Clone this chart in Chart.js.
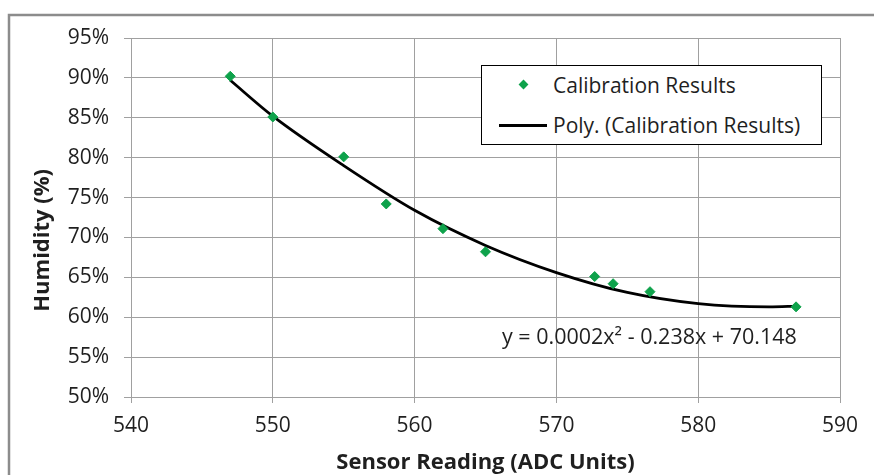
<!DOCTYPE html>
<html>
<head>
<meta charset="utf-8">
<script src="https://cdn.jsdelivr.net/npm/chart.js@4/dist/chart.umd.min.js"></script>
<style>
  body { margin: 0; background: #fff; }
  #wrap { position: relative; width: 874px; height: 475px; font-family: "Open Sans", sans-serif; color: #1f1f1f; }
  #legend {
    position: absolute; left: 481px; top: 65px; width: 341px; height: 80px;
    box-sizing: border-box; border: 1.5px solid #000; background: #fff;
  }
  .item { position: absolute; left: 0; height: 26px; line-height: 26px; font-size: 21px; white-space: nowrap; }
  .item .label { position: absolute; left: 71px; }
  .swatch { position: absolute; }
  #equation { position: absolute; left: 502px; top: 322px; font-size: 21.5px; line-height: 28px; white-space: nowrap; }
</style>
</head>
<body>
<div id="wrap">
  <canvas id="chart" width="874" height="475"></canvas>
  <div id="legend"></div>
  <div id="equation">y = 0.0002x² - 0.238x + 70.148</div>
</div>
<script>
// calibration points
const sensorReadings = [547, 550, 555, 558, 562, 565, 572.7, 574, 576.6, 586.9];
const humidity = [90.2, 85.1, 80.1, 74.2, 71.1, 68.2, 65.1, 64.2, 63.2, 61.3];

// polynomial trendline
const trendX = [547, 550, 555, 560, 565, 570, 575, 580, 585, 587];
const trendY = [89.7, 85.2, 79.0, 73.4, 69.0, 65.6, 63.1, 61.7, 61.3, 61.4];

const xTicks = [540, 550, 560, 570, 580, 590];
const yTicks = [50, 55, 60, 65, 70, 75, 80, 85, 90, 95];

const pointColor = '#0ea24b';
const gridColor = '#a0a0a0';
const textColor = '#1f1f1f';

const frame = {
  id: 'frame',
  beforeDraw(chart) {
    const ctx = chart.ctx;
    ctx.save();
    ctx.fillStyle = '#fff';
    ctx.fillRect(0, 0, chart.width, chart.height);
    ctx.strokeStyle = '#8c8c8c';
    ctx.lineWidth = 2.5;
    ctx.strokeRect(9, 15, chart.width + 20, chart.height + 20);
    ctx.restore();
  }
};

const chart = new Chart(document.getElementById('chart'), {
  type: 'scatter',
  data: {
    datasets: [
      {
        label: 'Calibration Results',
        data: sensorReadings.map((x, i) => ({ x: x, y: humidity[i] })),
        pointStyle: 'rectRot',
        pointRadius: 5,
        backgroundColor: pointColor,
        borderColor: pointColor,
        borderWidth: 1,
        order: 0
      },
      {
        label: 'Poly. (Calibration Results)',
        type: 'line',
        data: trendX.map((x, i) => ({ x: x, y: trendY[i] })),
        borderColor: '#000',
        borderWidth: 2.8,
        pointRadius: 0,
        cubicInterpolationMode: 'monotone',
        fill: false,
        order: 1
      }
    ]
  },
  options: {
    responsive: false,
    animation: false,
    layout: { padding: { top: 38, right: 34, left: 0, bottom: 0 } },
    plugins: {
      legend: { display: false },
      tooltip: { enabled: false }
    },
    scales: {
      x: {
        type: 'linear',
        min: 540,
        max: 590,
        afterBuildTicks: (axis) => { axis.ticks = xTicks.map(v => ({ value: v })); },
        afterFit: (axis) => { axis.height = 78; },
        ticks: { color: textColor, padding: 10, font: { family: 'Open Sans', size: 21 } },
        grid: { color: gridColor, lineWidth: 1, tickLength: 6 },
        border: { color: gridColor },
        title: {
          display: true,
          text: 'Sensor Reading (ADC Units)',
          color: textColor,
          padding: { top: 0, bottom: 0 },
          font: { family: 'Open Sans', size: 22, weight: 'bold', lineHeight: 1.1 }
        }
      },
      y: {
        min: 50,
        max: 95,
        afterBuildTicks: (axis) => { axis.ticks = yTicks.map(v => ({ value: v })); },
        afterFit: (axis) => { axis.width = 131; },
        ticks: {
          color: textColor,
          padding: 15,
          font: { family: 'Open Sans', size: 21 },
          callback: (v) => v + '%'
        },
        grid: { color: gridColor, lineWidth: 1, tickLength: 7 },
        border: { color: gridColor },
        title: {
          display: true,
          text: 'Humidity (%)\u00a0\u00a0\u00a0\u00a0\u00a0\u00a0\u00a0\u00a0',
          color: textColor,
          padding: { top: 30, bottom: 0 },
          font: { family: 'Open Sans', size: 22, weight: 'bold', lineHeight: 1.2 }
        }
      }
    }
  },
  plugins: [frame]
});

// legend box drawn from the dataset labels
const legend = document.getElementById('legend');
chart.data.datasets.forEach((ds, i) => {
  const row = document.createElement('div');
  row.className = 'item';
  row.style.top = (6 + i * 40) + 'px';
  row.style.width = '100%';
  const sw = document.createElement('span');
  sw.className = 'swatch';
  if (ds.type === 'line') {
    sw.style.left = '17px'; sw.style.top = '12px';
    sw.style.width = '48px'; sw.style.height = '3px';
    sw.style.background = ds.borderColor;
  } else {
    sw.style.left = '38px'; sw.style.top = '9px';
    sw.style.width = '7px'; sw.style.height = '7px';
    sw.style.background = ds.backgroundColor;
    sw.style.transform = 'rotate(45deg)';
  }
  const lbl = document.createElement('span');
  lbl.className = 'label';
  lbl.textContent = ds.label;
  row.appendChild(sw);
  row.appendChild(lbl);
  legend.appendChild(row);
});
</script>
</body>
</html>
